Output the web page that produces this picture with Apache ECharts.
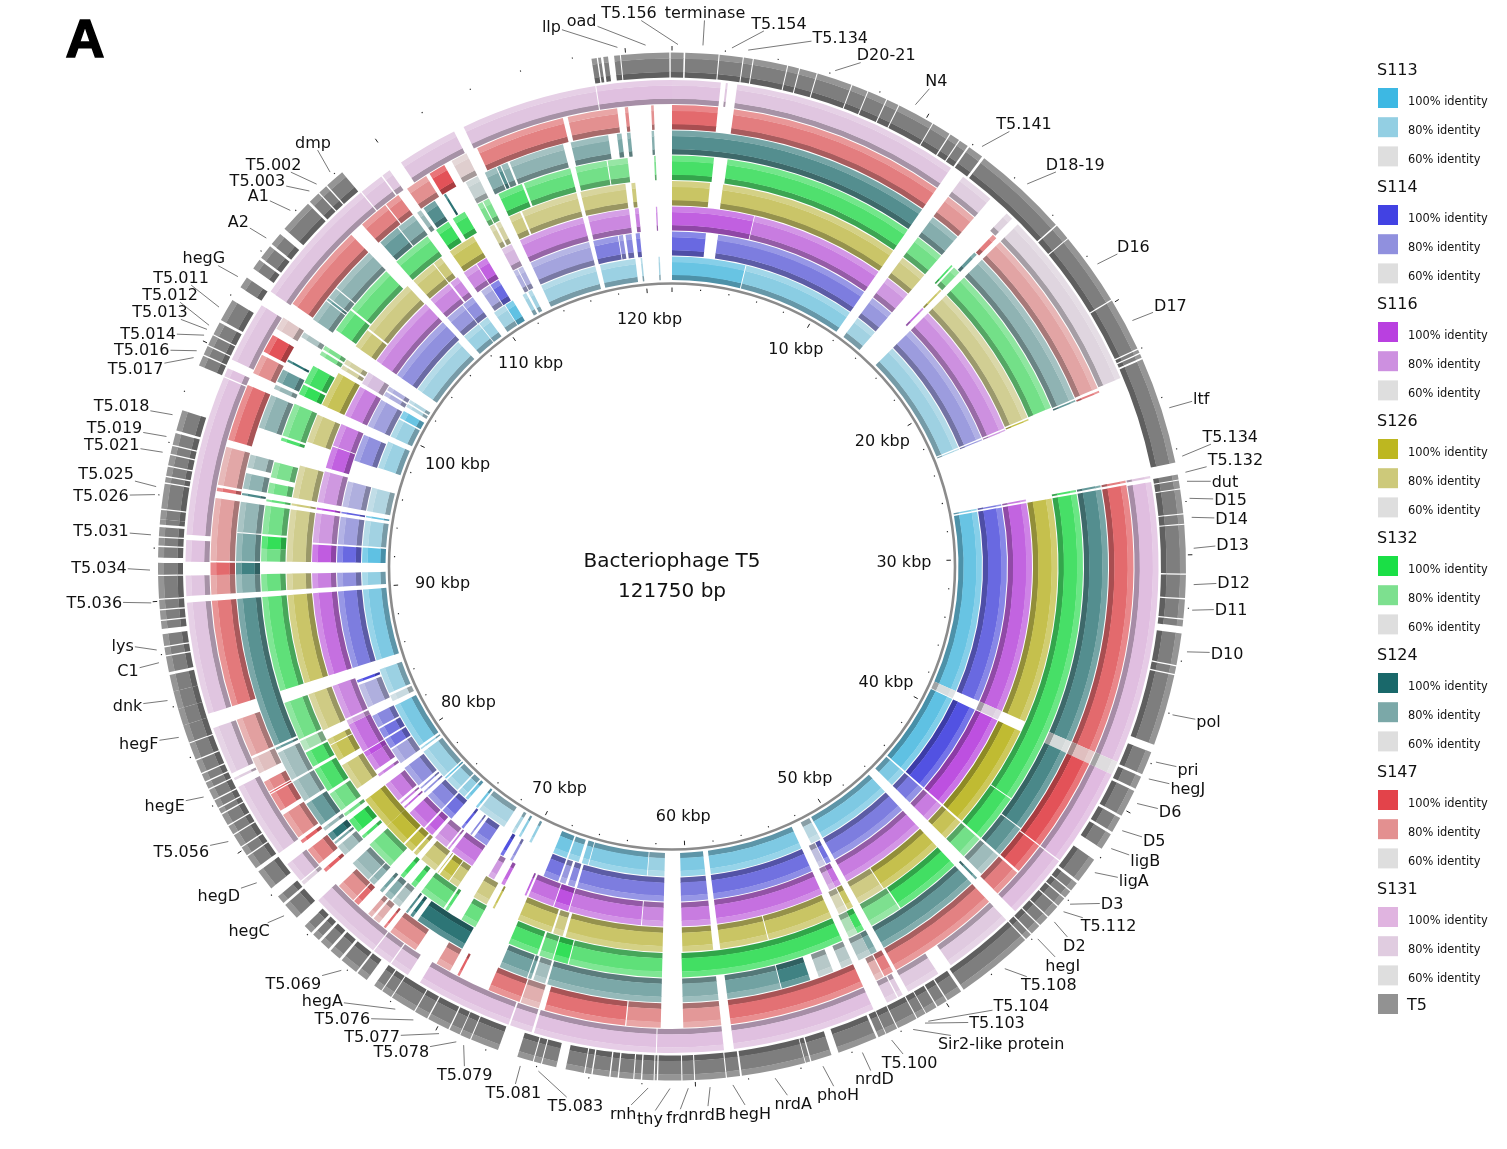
<!DOCTYPE html>
<html>
<head>
<meta charset="utf-8">
<style>html,body{margin:0;padding:0;background:#fff;overflow:hidden}#c{width:1507px;height:1149px}</style>
<script src="https://cdn.jsdelivr.net/npm/echarts@6/dist/echarts.min.js"></script>
</head>
<body>
<div id="c"></div>
<script>
// ---------- data: [start bp, end bp, % identity] ----------
const genomeLength = 121750;
const s113 = [[0,4640,90],[4700,11840,82],[12430,13830,76],[15320,22800,77],[22880,22950,75],[26810,26900,85],[27000,38450,90],[38450,38950,62],[39000,44400,92],[44500,45590,85],[46200,51050,85],[51200,51850,70],[52530,58440,85],[58780,60330,85],[61350,62400,78],[62450,66150,84],[66200,66600,84],[66800,67500,84],[67600,68500,88],[69990,70150,80],[70750,70900,82],[71200,71400,74],[71970,73870,74],[74000,74150,88],[74800,75000,88],[75100,75600,80],[75700,76600,78],[76700,76800,90],[76900,78900,78],[79100,79200,80],[79350,82300,86],[82600,83000,66],[83150,84750,78],[85350,89870,85],[90130,90950,80],[91550,92500,92],[92600,94200,76],[94400,94500,90],[94800,96300,72],[97600,99350,78],[99700,100900,78],[101000,101500,90],[101800,102000,72],[102100,102300,72],[103100,107000,76],[107500,108700,78],[108750,109400,78],[109900,110700,76],[110750,111300,92],[112000,112250,76],[112400,112650,76],[113300,116900,76],[117200,119450,78],[119780,119880,75],[120900,120990,75]];
const s114 = [[0,1970,90],[2680,11840,85],[12430,13830,78],[15320,22800,77],[22880,22950,78],[26810,26900,85],[27000,38450,90],[39000,44400,96],[44500,45590,86],[46200,51050,85],[51300,51600,88],[51650,52050,68],[52530,58450,88],[58780,60350,85],[61350,66450,85],[66600,67000,82],[67150,67500,78],[67600,68500,87],[70500,70650,80],[71100,71300,96],[72250,73120,85],[73300,73400,82],[73900,74050,92],[74800,75500,88],[75600,76700,82],[76950,77050,80],[77250,77350,80],[77500,78800,80],[79150,80100,75],[80200,80800,88],[80900,81500,88],[81600,82350,82],[82900,84300,72],[84450,84600,96],[85350,89870,85],[90130,90950,80],[91550,92500,90],[92600,94200,76],[94400,94500,92],[94800,96300,72],[97550,99150,80],[99700,101400,76],[101700,101950,72],[102050,102300,72],[103100,107150,80],[107500,108650,78],[108700,109400,80],[110000,110600,74],[110650,111200,90],[112200,112450,72],[112500,112800,72],[113300,116900,75],[117150,118600,84],[118650,118900,80],[119050,119400,82],[119640,119880,86]];
const s116 = [[0,4460,92],[4500,11840,85],[12430,13830,78],[14900,15000,88],[15320,22800,80],[22880,22950,78],[26810,26900,85],[27000,38450,91],[38450,38950,64],[39000,44400,96],[44500,45590,85],[46200,51050,85],[51400,51750,88],[51750,52100,75],[52530,58450,88],[58780,60350,85],[61350,62500,82],[62550,66500,86],[66550,67350,96],[67400,68830,88],[68950,69050,92],[70250,70450,90],[70900,71250,78],[72280,73630,86],[73800,73900,84],[74000,74800,80],[75000,75500,92],[75600,76700,88],[77050,77150,90],[77350,77450,84],[77600,78700,85],[79250,79400,84],[79650,80500,88],[80500,80800,96],[80850,82500,88],[82500,82750,75],[82850,84750,82],[85350,89870,88],[90130,90950,84],[91550,92500,93],[92600,94200,78],[94400,94500,98],[94800,96500,78],[96700,97900,92],[97950,99200,85],[99700,101450,84],[101650,102350,68],[103100,107150,82],[107500,108800,82],[108900,109400,82],[109800,110600,82],[110650,111250,92],[112200,112800,70],[113300,116900,82],[117180,119430,82],[119740,119950,84],[120880,120950,84]];
const s126 = [[0,1920,85],[2580,11840,84],[12430,13830,78],[14900,15000,85],[15320,22750,75],[22830,22900,92],[27000,38450,90],[39000,44400,96],[44500,45590,88],[46200,49600,90],[49650,51050,78],[51400,51700,85],[51750,52200,68],[52600,55950,85],[56000,58440,85],[58800,60350,85],[61350,66300,84],[66450,66950,78],[67050,68850,84],[70150,70250,88],[70600,71350,78],[72300,72800,80],[72850,73400,92],[73500,73550,85],[73700,74600,80],[74900,75100,85],[75200,75700,92],[75800,77000,95],[77000,78700,92],[79400,80800,80],[81100,81950,88],[82000,82300,84],[82800,84750,78],[85350,89870,84],[90130,90950,77],[91550,94200,76],[94400,94500,80],[94800,96450,76],[97700,99160,78],[99700,101500,88],[101750,101950,72],[102050,102300,72],[103100,104100,80],[104200,107100,78],[107500,108800,80],[108850,109300,80],[109850,111250,86],[112200,112450,72],[112550,112800,72],[113300,113900,78],[114000,116900,77],[117100,119400,78],[119700,119900,80]];
const s132 = [[0,1985,91],[2630,11840,89],[12430,13830,82],[14480,14560,90],[14650,15000,80],[15320,22750,82],[26810,26900,90],[27000,42050,91],[42100,44400,92],[44500,45590,82],[46200,49440,92],[49500,51050,80],[51450,51800,92],[51800,52250,70],[52600,60400,92],[61350,65800,86],[65850,66550,95],[66600,67250,84],[67350,68800,90],[70550,71300,84],[72050,72200,88],[72300,73600,84],[73950,74200,90],[74650,74850,92],[75500,76900,82],[77300,77450,90],[77700,78400,95],[78650,78800,82],[79000,79950,82],[80100,81300,90],[81450,82200,90],[82300,82800,72],[82900,84750,82],[85350,89870,86],[90130,90950,84],[91550,92150,82],[92150,92750,95],[92850,94200,82],[94400,94500,85],[94800,95300,82],[95550,96300,80],[97350,97500,90],[97600,99200,82],[99700,100200,95],[100300,101200,92],[101800,102000,80],[102100,102300,80],[103200,104350,86],[104450,106850,84],[107500,109400,85],[109900,110600,93],[110850,111500,92],[112200,112450,80],[112500,112800,80],[113300,114500,90],[114600,116900,85],[117150,118650,82],[118700,119650,80],[120900,120980,80]];
const s124 = [[0,11840,88],[12430,13830,78],[14850,15000,85],[15320,22780,76],[22850,22920,85],[26810,26900,85],[27000,38450,88],[38450,39000,62],[39000,42900,90],[42950,44400,86],[44500,45590,73],[45850,45950,88],[46200,51050,85],[51400,51700,80],[51700,52300,70],[52600,53130,68],[53530,54220,68],[54620,55940,92],[55980,58400,82],[58800,60400,78],[61350,66500,80],[66600,67150,72],[67250,67400,82],[67450,68750,82],[70600,72950,96],[73200,73350,96],[73500,73600,88],[73950,74350,70],[74450,74800,78],[74950,75100,82],[75450,75750,76],[75800,76800,74],[77300,77800,72],[77950,78050,80],[78150,78500,96],[78700,78850,74],[79000,80150,84],[80300,81300,74],[81400,82750,72],[82900,83000,84],[83100,89870,87],[90130,90950,78],[90950,91480,92],[91550,92800,80],[92850,94200,75],[94500,94600,90],[94800,95500,76],[95750,96350,72],[97600,99150,76],[99450,99650,74],[99800,100400,84],[100800,100900,96],[102050,102300,70],[103000,104000,76],[104050,104150,85],[104200,104700,76],[104750,106870,76],[107550,108550,84],[108600,109450,78],[109650,109850,74],[110000,110600,88],[111080,111180,96],[112200,112800,65],[113150,113700,78],[113750,113900,88],[113950,114250,78],[114350,116850,76],[117200,118900,78],[119290,119500,80],[119740,119900,80],[120840,120950,78]];
const s147 = [[0,1940,90],[2610,11840,85],[12430,13830,78],[14900,15100,85],[15320,22750,75],[22870,22950,85],[26810,26900,85],[27000,38450,90],[38450,39000,68],[39000,43000,96],[43050,44400,94],[44500,45700,85],[46200,51050,84],[51200,51600,85],[51650,52000,72],[52600,58400,88],[58800,60400,78],[61350,62800,80],[62850,66300,88],[66550,67350,72],[67400,68800,86],[70150,70250,92],[70600,71250,78],[72300,73600,80],[73850,73950,90],[74200,74500,72],[74600,74800,74],[75350,75600,90],[75650,76500,80],[77300,77450,92],[77750,78500,84],[78850,79000,92],[79150,80300,80],[80500,81300,86],[81350,81400,96],[81450,81900,82],[82300,83000,68],[83100,84750,76],[85350,89870,86],[90130,90950,78],[90950,91480,90],[91550,94200,76],[94500,94650,88],[94760,96400,74],[96700,99150,88],[99700,100550,80],[100700,101500,96],[101800,102350,66],[103050,106860,84],[107480,108750,84],[108800,109450,84],[109900,110860,80],[111030,111750,96],[112100,112800,64],[113300,117120,84],[117330,119440,80],[119760,119900,82],[120870,120980,80]];
const s131 = [[0,1950,88],[2150,2230,84],[2610,11840,85],[12430,13830,78],[14700,15000,72],[15320,22730,70],[26810,26900,85],[27050,38450,92],[38450,39000,62],[39000,43000,95],[43050,45700,92],[46200,49050,82],[49650,51050,82],[51300,51500,82],[51550,52000,82],[52600,58400,90],[58800,61480,90],[61520,66450,90],[66550,67450,88],[67520,71430,90],[72000,72800,86],[72850,73650,86],[73700,76650,86],[77500,77650,75],[77700,78550,85],[79100,82200,84],[82500,82600,78],[82800,84750,82],[85350,89870,86],[90130,90950,86],[91500,92370,88],[92580,99050,88],[99100,99450,88],[99830,102300,86],[102950,108300,86],[108350,109340,86],[109400,109750,84],[110300,112750,86],[113170,118680,86],[118720,121750,90]];
const t5Genes = [[0,440],[500,1760],[1800,2680],[2720,3060],[3100,4380],[4420,4840],[4880,5530],[5570,6910],[6950,7560],[7600,8330],[8370,8840],[8880,10290],[10330,11050],[11100,11480],[11520,11880],[11950,12550],[12650,16340],[16400,17010],[17050,19850],[19900,21950],[22000,22130],[22180,22330],[22400,26490],[26950,27140],[27180,27480],[27520,28430],[28470,28820],[28860,30700],[30750,31630],[31680,32400],[32450,32700],[32970,34180],[34230,34520],[34570,37300],[37600,38500],[38600,39100],[39200,40250],[40350,40950],[41050,41700],[42200,43200],[43300,43650],[43700,44000],[44050,44400],[44450,44950],[45000,45400],[45450,45850],[45900,46150],[46200,49180],[49300,49900],[49950,50350],[50400,50850],[50880,51230],[51270,52050],[52090,52540],[52570,52860],[52950,54480],[54760,55550],[55600,55770],[55800,58230],[58300,58800],[58840,60000],[60040,60480],[60520,61400],[61450,61530],[61570,62000],[62050,62300],[62340,62880],[62930,63200],[63250,63880],[63930,64170],[64210,64920],[65280,65830],[65870,66150],[66190,66800],[67570,68660],[68700,69100],[69130,69550],[69600,70450],[70500,71020],[71060,72040],[72080,72480],[72520,72850],[73200,73630],[73700,74400],[74500,74950],[75050,75450],[75550,75850],[75950,76300],[76730,77380],[77480,77800],[78200,79000],[79150,79700],[79750,80100],[80150,80650],[80700,81050],[81100,81550],[81600,81800],[81850,82150],[82200,82600],[82650,82900],[82950,83250],[83300,83800],[83850,84500],[84540,85220],[85220,85870],[85870,86550],[86550,87190],[87300,87900],[87950,88250],[88300,88750],[88950,89250],[89300,89650],[89700,90050],[90100,90950],[91000,91450],[91650,92050],[92100,92400],[92450,92800],[92900,93100],[93100,93450],[93500,94450],[94500,94700],[94750,95100],[95150,95550],[95600,95900],[95950,96400],[96500,97300],[99100,99500],[99550,99900],[99950,100350],[100400,100900],[101000,101870],[102440,102880],[103300,103700],[103800,104350],[104450,104950],[105200,106500],[106600,107050],[107100,107450],[107500,108250],[118700,118900],[118950,119060],[119150,119330],[119560,119780],[119820,121650],[121700,121750]];
const kbpTicks = [10,20,30,40,50,60,70,80,90,100,110,120];
const geneLabelNames = ["llp","oad","T5.156","terminase","T5.154","T5.134","D20-21","N4","T5.141","D18-19","D16","D17","ltf","T5.134","T5.132","dut","D15","D14","D13","D12","D11","D10","pol","pri","hegJ","D6","D5","ligB","ligA","D3","T5.112","D2","hegI","T5.108","T5.104","T5.103","Sir2-like protein","T5.100","nrdD","phoH","nrdA","hegH","nrdB","frd","thy","rnh","T5.083","T5.081","T5.079","T5.078","T5.077","T5.076","hegA","T5.069","hegC","hegD","T5.056","hegE","hegF","dnk","C1","lys","T5.036","T5.034","T5.031","T5.026","T5.025","T5.021","T5.019","T5.018","T5.017","T5.016","T5.014","T5.013","T5.012","T5.011","hegG","A2","A1","T5.003","T5.002","dmp"];
const geneLabelBp = [119720,120770,223,1150,2230,2840,6160,9400,12320,14500,18460,20930,24450,26310,26920,27260,27900,28610,29760,31110,32060,33620,36020,37880,38560,39570,40720,41500,42580,44070,44440,44950,45830,47480,50930,51070,51570,52460,53640,55190,57020,58610,59460,60270,60950,61760,65890,66590,68830,69130,69840,70920,71700,74170,77110,78700,80560,82450,84850,86280,87720,88200,89960,91180,92490,93990,94290,95590,96190,97030,99290,99570,100210,100450,100620,101390,102720,104500,105860,106870,107240,107910];
const sampleNames = ["S113","S114","S116","S126","S132","S124","S147","S131"];
const identityLevels = ["100% identity","80% identity","60% identity"];
const centerTitle = ["Bacteriophage T5","121750 bp"];

// ---------- layout and style ----------
const CX = 672, CY = 566.5, RMAX = 530;
const FONT = '"DejaVu Sans", sans-serif';
const samples = [s113,s114,s116,s126,s132,s124,s147,s131];
const ringRadii = [[286.5,310],[311,335],[336,360],[361,385.5],[386.5,411],[412,436],[437,461.5],[462.5,486.5]];
const geneRadii = [489,514];
const palette = [["#3db8e3","#93cfe3"],["#4242e3","#9090de"],["#b940e0","#cd90e0"],["#bdb720","#cdc97a"],["#1adf46","#7de08f"],["#19686a","#7ba8a8"],["#e3434a","#e39090"],["#e0b4e0","#e0cce0"]];
const GREY = "#dedede";
const TEXT_DY = 1.5;
const kbpLabelRadius = [251,245,232,243,249.5,249,248,244,230,238,248,249.5];
// text centre relative to the leader's inner end
const geneLabelOffset = [[-66,-21],[-64,-25],[-49,-32],[2,-33],[47,-25],[92,-13],[51,-16],[21,-24],[42,-23],[48,-20],[36,-18],[38,-15],[32,-9],[48,-20],[50,-13],[38,0],[41,1],[40,1],[39,-4],[40,-2],[39,-1],[40,1],[36,7],[32,7],[39,9],[33,8],[32,10],[34,12],[39,8],[42,-1],[45,14],[20,23],[25,26],[44,16],[93,-16],[72,-1],[88,14],[18,22],[12,26],[15,28],[18,25],[17,28],[-3,27],[-11,29],[-20,30],[-25,25],[37,34],[-7,26],[1,29],[-55,10],[-67,3],[-71,-2],[-73,-9],[-48,13],[-35,15],[-38,13],[-47,10],[-39,8],[-40,6],[-40,5],[-31,8],[-34,-5],[-57,-1],[-51,-3],[-50,-4],[-54,1],[-50,-13],[-51,-8],[-52,-9],[-51,-9],[-58,11],[-55,-1],[-56,-2],[-47,-18],[-39,-31],[-38,-30],[-34,-19],[-28,-17],[-32,-15],[-52,-11],[-43,-20],[-17,-30]];

function hex(c){return [1,3,5].map(i=>parseInt(c.substr(i,2),16));}
function mix(a,b,t){return a.map((v,i)=>v+(b[i]-v)*t);}
function css(c){return 'rgb('+c.map(Math.round).join(',')+')';}
function identityColor(pal,id){
  const a=hex(pal[0]),b=hex(pal[1]),g=hex(GREY);
  return id>=80?mix(b,a,(id-80)/20):mix(g,b,Math.max(0,(id-60)/20));
}
function threeBands(params,api,r0,r1,main,lightMix,darkMix){
  const cs=params.coordSys,cx=cs.cx,cy=cs.cy;
  const s=api.value(0),e=api.value(1);
  const polar=(r,bp)=>{const p=api.coord([r,bp]);return {a:Math.atan2(p[1]-cy,p[0]-cx),r:Math.hypot(p[0]-cx,p[1]-cy)};};
  const a=polar(r1,s),b=polar(r1,e);
  const inner=polar(r0,s).r,outer=a.r,w=outer-inner;
  const a0=a.a;let a1=b.a;if(a1<=a0)a1+=Math.PI*2;
  const sec=(ri,ro,fill)=>({type:'sector',shape:{cx,cy,r0:ri,r:ro,startAngle:a0,endAngle:a1,clockwise:true},style:{fill},silent:true});
  return {type:'group',children:[
    sec(inner,inner+w*0.23,css(mix(main,[0,0,0],darkMix))),
    sec(inner+w*0.23-0.3,inner+w*0.76+0.3,css(main)),
    sec(inner+w*0.76,outer,css(mix(main,[255,255,255],lightMix)))
  ]};
}
const measure=document.createElement('canvas').getContext('2d');
measure.font='16px '+FONT;

const series=[];
samples.forEach((segs,i)=>{
  series.push({type:'custom',coordinateSystem:'polar',silent:true,clip:false,
    renderItem:(p,api)=>threeBands(p,api,ringRadii[i][0],ringRadii[i][1],identityColor(palette[i],api.value(2)),0.2,0.26),
    data:segs});
});
series.push({type:'custom',coordinateSystem:'polar',silent:true,clip:false,
  renderItem:(p,api)=>threeBands(p,api,geneRadii[0],geneRadii[1],[126,126,126],0.18,0.25),
  data:t5Genes});
// inner scale circle
series.push({type:'custom',coordinateSystem:'polar',silent:true,clip:false,
  renderItem:(p,api)=>({type:'circle',shape:{cx:p.coordSys.cx,cy:p.coordSys.cy,r:283},style:{fill:'none',stroke:'#8b8b8b',lineWidth:2.6},silent:true}),
  data:[[0,0]]});
// ticks: every 2 kbp, inside the scale circle and outside the gene ring
const tickBp=[];for(let b=0;b<genomeLength;b+=2000)tickBp.push(b);
series.push({type:'custom',coordinateSystem:'polar',silent:true,clip:false,
  renderItem:(p,api)=>{
    const bp=api.value(1),major=bp%10000===0;
    const seg=(r0,r1)=>{const a=api.coord([r0,bp]),b=api.coord([r1,bp]);return {type:'line',shape:{x1:a[0],y1:a[1],x2:b[0],y2:b[1]},style:{stroke:'#222',lineWidth:major?1:1.1},silent:true};};
    return {type:'group',children:major?[seg(274.5,279),seg(516,520.5)]:[seg(277,278.2),seg(517.5,518.7)]};
  },
  data:tickBp.map(b=>[0,b])});
// kbp labels
series.push({type:'custom',coordinateSystem:'polar',silent:true,clip:false,
  renderItem:(p,api)=>{
    const i=api.value(0),k=kbpTicks[i],c=api.coord([kbpLabelRadius[i],k*1000]);
    return {type:'text',silent:true,style:{text:k+' kbp',x:c[0],y:c[1]+TEXT_DY,align:'center',verticalAlign:'middle',font:'16px '+FONT,fill:'#111'}};
  },
  data:kbpTicks.map((k,i)=>[i,k*1000])});
// gene labels and leaders
series.push({type:'custom',coordinateSystem:'polar',silent:true,clip:false,
  renderItem:(p,api)=>{
    const i=api.value(0),c=api.coord([522,geneLabelBp[i]]),o=geneLabelOffset[i];
    const tx=c[0]+o[0],ty=c[1]+o[1],w=measure.measureText(geneLabelNames[i]).width/2+1,h=8;
    const t=Math.min(o[0]?w/Math.abs(o[0]):9,o[1]?h/Math.abs(o[1]):9);
    const lx=tx-o[0]*Math.min(t,1),ly=ty-o[1]*Math.min(t,1);
    return {type:'group',children:[
      {type:'line',silent:true,shape:{x1:c[0],y1:c[1],x2:lx,y2:ly},style:{stroke:'#555',lineWidth:0.8}},
      {type:'text',silent:true,style:{text:geneLabelNames[i],x:tx,y:ty+TEXT_DY,align:'center',verticalAlign:'middle',font:'16px '+FONT,fill:'#111'}}
    ]};
  },
  data:geneLabelBp.map((b,i)=>[i,b])});

// legend, title, panel letter
const graphic=[];
const txt=(x,y,text,font,extra)=>({type:'text',silent:true,style:Object.assign({x,y:y+TEXT_DY,text,font,fill:'#111',verticalAlign:'middle'},extra||{})});
const swatch=(y,fill)=>({type:'rect',silent:true,shape:{x:1378,y:y-10,width:20,height:20},style:{fill}});
sampleNames.forEach((n,i)=>{
  const y0=70+117*i;
  graphic.push(txt(1377,y0-1,n,'16px '+FONT));
  const cols=[palette[i][0],palette[i][1],GREY];
  identityLevels.forEach((lab,j)=>{
    const y=y0+28+29.2*j;
    graphic.push(swatch(y,cols[j]));
    graphic.push(txt(1408,y+2.5,lab,'11.4px '+FONT));
  });
});
graphic.push(swatch(1004,'#929292'));
graphic.push(txt(1407,1004,'T5','16px '+FONT));
graphic.push(txt(672,560,centerTitle[0],'20px '+FONT,{align:'center'}));
graphic.push(txt(672,590,centerTitle[1],'20px '+FONT,{align:'center'}));
graphic.push(txt(85,41,'A','bold 54px "Liberation Sans", sans-serif',{align:'center',fill:'#000',stroke:'#000',lineWidth:1.5}));

const chart=echarts.init(document.getElementById('c'),null,{renderer:'canvas'});
chart.setOption({
  animation:false,
  backgroundColor:'#fff',
  polar:{center:[CX,CY],radius:[0,RMAX]},
  angleAxis:{type:'value',min:0,max:genomeLength,startAngle:90,clockwise:true,show:false},
  radiusAxis:{type:'value',min:0,max:RMAX,show:false},
  graphic:graphic,
  series:series
});
</script>
</body>
</html>
